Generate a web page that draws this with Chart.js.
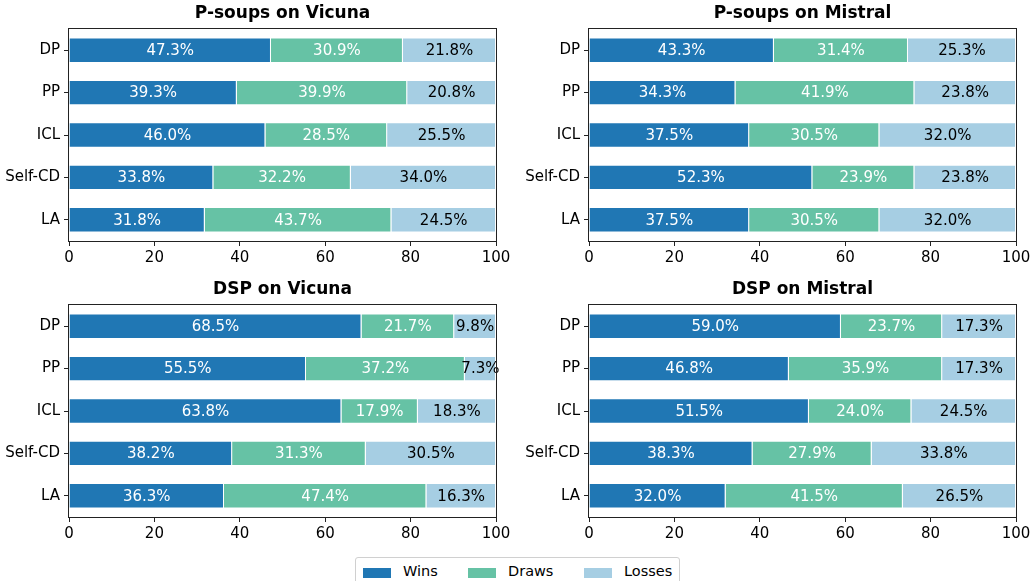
<!DOCTYPE html>
<html>
<head>
<meta charset="utf-8">
<script src="https://cdn.jsdelivr.net/npm/chart.js@4/dist/chart.umd.min.js"></script>
<style>
  body { margin: 0; background: #fff; width: 1030px; height: 581px; overflow: hidden; position: relative; font-family: "DejaVu Sans", sans-serif; }
  .panel { position: absolute; }
  #legend { position: absolute; left: 355px; top: 557px; width: 325px; height: 32px; border: 1px solid #d0d0d0; border-radius: 3px; box-sizing: border-box; background: #fff; }
  .item { position: absolute; top: 5px; font-size: 14.5px; color: #000; }
  .item span.patch { position: absolute; top: 5px; left: 0; width: 28px; height: 10px; }
  .item span.txt { position: absolute; left: 40px; top: 0; white-space: nowrap; }
</style>
</head>
<body>
<div class="panel" style="left:0;top:0"><canvas id="c1" width="510" height="280"></canvas></div>
<div class="panel" style="left:520px;top:0"><canvas id="c2" width="510" height="280"></canvas></div>
<div class="panel" style="left:0;top:276px"><canvas id="c3" width="510" height="280"></canvas></div>
<div class="panel" style="left:520px;top:276px"><canvas id="c4" width="510" height="280"></canvas></div>
<div id="legend"></div>
<script>
// 카테고리
const categories = ['DP', 'PP', 'ICL', 'Self-CD', 'LA'];
const seriesNames = ['Wins', 'Draws', 'Losses'];
const seriesColors = ['#2077b4', '#66c2a5', '#a6cee3'];
const labelColors = ['#ffffff', '#ffffff', '#000000'];
const xTicks = [0, 20, 40, 60, 80, 100];

// P-soups on Vicuna
const psoupsVicunaWins = [47.3, 39.3, 46.0, 33.8, 31.8];
const psoupsVicunaDraws = [30.9, 39.9, 28.5, 32.2, 43.7];
const psoupsVicunaLosses = [21.8, 20.8, 25.5, 34.0, 24.5];

// P-soups on Mistral
const psoupsMistralWins = [43.3, 34.3, 37.5, 52.3, 37.5];
const psoupsMistralDraws = [31.4, 41.9, 30.5, 23.9, 30.5];
const psoupsMistralLosses = [25.3, 23.8, 32.0, 23.8, 32.0];

// DSP on Vicuna
const dspVicunaWins = [68.5, 55.5, 63.8, 38.2, 36.3];
const dspVicunaDraws = [21.7, 37.2, 17.9, 31.3, 47.4];
const dspVicunaLosses = [9.8, 7.3, 18.3, 30.5, 16.3];

// DSP on Mistral
const dspMistralWins = [59.0, 46.8, 51.5, 38.3, 32.0];
const dspMistralDraws = [23.7, 35.9, 24.0, 27.9, 41.5];
const dspMistralLosses = [17.3, 17.3, 24.5, 33.8, 26.5];

const FONT = "'DejaVu Sans', sans-serif";

// 막대 중앙 라벨
const barLabels = {
  id: 'barLabels',
  afterDatasetsDraw(chart) {
    const ctx = chart.ctx;
    ctx.save();
    ctx.font = '15px ' + FONT;
    ctx.textAlign = 'center';
    ctx.textBaseline = 'middle';
    chart.data.datasets.forEach((ds, i) => {
      const meta = chart.getDatasetMeta(i);
      ctx.fillStyle = labelColors[i];
      meta.data.forEach((bar, j) => {
        const cx = (bar.x + bar.base) / 2;
        ctx.fillText(ds.data[j].toFixed(1) + '%', cx, bar.y + 1);
      });
    });
    ctx.restore();
  }
};

// 축 테두리 + 제목 (차트 영역 중앙 정렬)
const frame = {
  id: 'frame',
  afterDraw(chart, args, opts) {
    const a = chart.chartArea;
    const ctx = chart.ctx;
    ctx.save();
    ctx.strokeStyle = '#222';
    ctx.lineWidth = 1;
    ctx.strokeRect(Math.round(a.left) - 0.5, Math.round(a.top) - 0.5, Math.round(a.right - a.left) + 1, Math.round(a.bottom - a.top) + 1);
    ctx.fillStyle = '#000';
    ctx.font = 'bold 17px ' + FONT;
    ctx.textAlign = 'center';
    ctx.textBaseline = 'middle';
    ctx.fillText(opts.text, (a.left + a.right) / 2, a.top - 15);
    ctx.restore();
  }
};

function makeChart(id, title, wins, draws, losses) {
  const values = [wins, draws, losses];
  return new Chart(document.getElementById(id), {
    type: 'bar',
    data: {
      labels: categories,
      datasets: seriesNames.map((name, i) => ({
        label: name,
        data: values[i],
        backgroundColor: seriesColors[i],
        borderColor: '#ffffff',
        borderWidth: 1,
        barPercentage: 0.6,
        categoryPercentage: 1.0
      }))
    },
    options: {
      indexAxis: 'y',
      responsive: false,
      animation: false,
      devicePixelRatio: 1,
      layout: { padding: { right: 14, left: 0, top: 29, bottom: 0 } },
      plugins: {
        legend: { display: false },
        tooltip: { enabled: false },
        title: { display: false },
        frame: { text: title }
      },
      scales: {
        x: {
          stacked: true,
          min: 0,
          max: 100,
          afterBuildTicks: (scale) => { scale.ticks = xTicks.map(v => ({ value: v })); },
          ticks: { color: '#000', font: { family: FONT, size: 15 }, padding: 3, maxRotation: 0 },
          grid: { drawOnChartArea: false, drawTicks: true, tickLength: 5, color: '#222' },
          border: { display: false },
          afterFit: (scale) => { scale.height = 39; scale.paddingLeft = 0; scale.paddingRight = 0; }
        },
        y: {
          stacked: true,
          ticks: { color: '#000', font: { family: FONT, size: 15 }, padding: 4 },
          grid: { drawOnChartArea: false, drawTicks: true, tickLength: 5, color: '#222', offset: false },
          border: { display: false },
          afterFit: (scale) => { scale.width = 69; scale.paddingTop = 0; scale.paddingBottom = 0; }
        }
      }
    },
    plugins: [barLabels, frame]
  });
}

makeChart('c1', 'P-soups on Vicuna', psoupsVicunaWins, psoupsVicunaDraws, psoupsVicunaLosses);
makeChart('c2', 'P-soups on Mistral', psoupsMistralWins, psoupsMistralDraws, psoupsMistralLosses);
makeChart('c3', 'DSP on Vicuna', dspVicunaWins, dspVicunaDraws, dspVicunaLosses);
makeChart('c4', 'DSP on Mistral', dspMistralWins, dspMistralDraws, dspMistralLosses);

// 범례
const legend = document.getElementById('legend');
const legendX = [7, 112, 228];
legend.innerHTML = seriesNames.map((name, i) => `
  <div class="item" style="left:${legendX[i]}px">
    <span class="patch" style="background:${seriesColors[i]}"></span>
    <span class="txt">${name}</span>
  </div>
`).join('');
</script>
</body>
</html>
